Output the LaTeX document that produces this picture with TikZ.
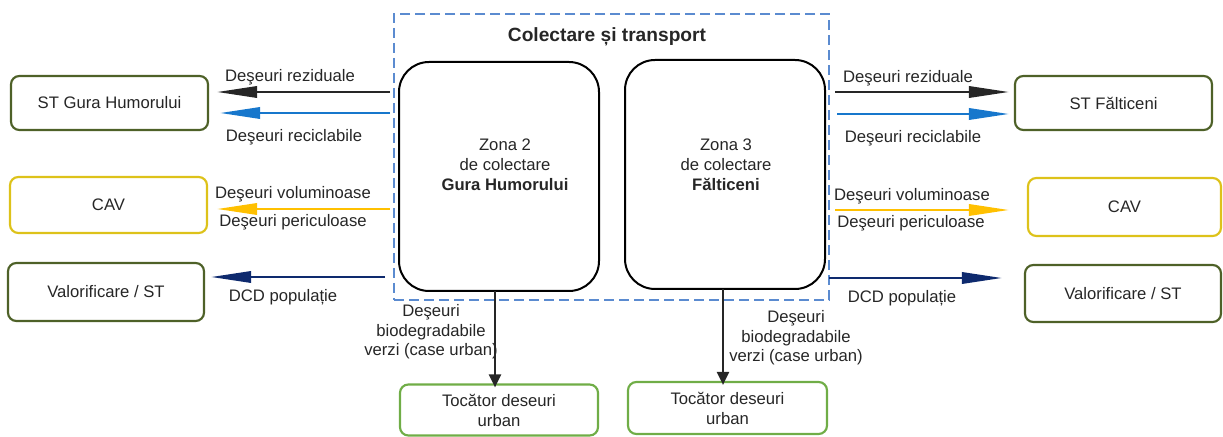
\documentclass[tikz,border=0pt]{standalone}
\usepackage{fontspec}
\setmainfont{Liberation Sans}
\usetikzlibrary{arrows.meta,fit}
\definecolor{txt}{HTML}{262626}
\definecolor{darkgreen}{HTML}{4E6128}
\definecolor{lightgreen}{HTML}{70AD47}
\definecolor{cavyellow}{HTML}{DDC21A}
\definecolor{dashblue}{HTML}{5B8BD0}
\definecolor{arrblue}{HTML}{1777CC}
\definecolor{arryellow}{HTML}{FFC000}
\definecolor{arrnavy}{HTML}{0E2A6E}
\begin{document}
\begin{tikzpicture}[x=0.6pt,y=-0.6pt,
  font=\fontsize{10}{12}\selectfont, text=txt,
  box/.style={draw, line width=1.3pt, rounded corners=5pt, inner sep=0pt, align=center},
  zone/.style={draw=black, line width=1.2pt, rounded corners=18pt, inner sep=0pt},
  lbl/.style={inner sep=0pt, anchor=center},
  harr/.style={line width=1.4pt, -{Triangle[length=24pt,width=6.8pt]}},
  varr/.style={line width=1.4pt, draw=txt, -{Triangle[length=7.8pt,width=7.2pt]}}]
\useasboundingbox (0,0) rectangle (1223,437);

% dashed frame
\node[draw=dashblue, line width=0.9pt, dash pattern=on 6pt off 3pt, inner sep=0pt,
      fit={(394,14) (829,300)}] (frame) {};
\node[lbl, font=\fontsize{11.5}{14}\selectfont\bfseries] (title) at (607,37) {Colectare și transport};

% zones
\node[zone, fit={(399,62) (599,291)}] (zoneL) {};
\node[zone, fit={(625,60) (825,289)}] (zoneR) {};
\node[lbl, align=center] (zoneLt) at (505,165) {Zona 2\\de colectare\\\textbf{Gura Humorului}};
\node[lbl, align=center] (zoneRt) at (726,165) {Zona 3\\de colectare\\\textbf{Fălticeni}};

% left boxes
\node[box, draw=darkgreen, minimum width=118.2pt, minimum height=32.4pt] (stgh) at (109.5,103) {ST Gura Humorului};
\node[box, draw=cavyellow, minimum width=118.2pt, minimum height=33.6pt] (cavL) at (108.5,205) {CAV};
\node[box, draw=darkgreen, minimum width=117.6pt, minimum height=34.8pt] (valL) at (106,292) {Valorificare / ST};

% right boxes
\node[box, draw=darkgreen, minimum width=118.2pt, minimum height=32.4pt] (stf) at (1113.5,103) {ST Fălticeni};
\node[box, draw=cavyellow, minimum width=115.8pt, minimum height=34.8pt] (cavR) at (1124.5,207) {CAV};
\node[box, draw=darkgreen, minimum width=117.6pt, minimum height=34.2pt] (valR) at (1123,293.5) {Valorificare / ST};

% bottom boxes
\node[box, draw=lightgreen, minimum width=118.8pt, minimum height=30.6pt] (tocL) at (499,410) {Tocător deseuri\\urban};
\node[box, draw=lightgreen, minimum width=119.4pt, minimum height=31.2pt] (tocR) at (727.5,408) {Tocător deseuri\\urban};

% arrow start points
\coordinate (l1) at (390,92);
\coordinate (l2) at (390,113);
\coordinate (l3) at (390,209);
\coordinate (l4) at (385,277);
\coordinate (r1) at (835,92);
\coordinate (r2) at (837,114);
\coordinate (r3) at (835,210);
\coordinate (r4) at (829,278);

% left arrows
\draw[harr, draw=txt, fill=txt] (l1) -- ([xshift=8*0.6pt]l1 -| stgh.east);
\draw[harr, draw=arrblue] (l2) -- ([xshift=11*0.6pt]l2 -| stgh.east);
\draw[harr, draw=arryellow] (l3) -- ([xshift=9*0.6pt]l3 -| cavL.east);
\draw[harr, draw=arrnavy] (l4) -- ([xshift=6*0.6pt]l4 -| valL.east);
% right arrows
\draw[harr, draw=txt] (r1) -- ([xshift=-5*0.6pt]r1 -| stf.west);
\draw[harr, draw=arrblue] (r2) -- ([xshift=-5*0.6pt]r2 -| stf.west);
\draw[harr, draw=arryellow] (r3) -- ([xshift=-18*0.6pt]r3 -| cavR.west);
\draw[harr, draw=arrnavy] (r4) -- ([xshift=-22*0.6pt]r4 -| valR.west);

% down arrows
\coordinate (dL) at (495,291);
\coordinate (dR) at (723,289);
\draw[varr] (dL) -- ([yshift=-4*0.6pt]dL |- tocL.north);
\draw[varr] (dR) -- ([yshift=-4*0.6pt]dR |- tocR.north);

% arrow labels left
\node[lbl] (tl1) at (290,77) {Deşeuri reziduale};
\node[lbl] (tl2) at (294,137) {Deşeuri reciclabile};
\node[lbl] (tl3) at (293,194) {Deşeuri voluminoase};
\node[lbl] (tl4) at (293,222) {Deşeuri periculoase};
\node[lbl] (tl5) at (283,297) {DCD populație};
% arrow labels right
\node[lbl] (tr1) at (908,78) {Deşeuri reziduale};
\node[lbl] (tr2) at (913,138) {Deşeuri reciclabile};
\node[lbl] (tr3) at (912,196) {Deşeuri voluminoase};
\node[lbl] (tr4) at (911,223) {Deşeuri periculoase};
\node[lbl] (tr5) at (902,298) {DCD populație};
% bottom labels
\node[lbl, align=center, font=\fontsize{10}{11.7}\selectfont] (bl) at (431,332) {Deşeuri\\biodegradabile\\verzi (case urban)};
\node[lbl, align=center, font=\fontsize{10}{11.7}\selectfont] (br) at (796,338) {Deşeuri\\biodegradabile\\verzi (case urban)};
\end{tikzpicture}
\end{document}
